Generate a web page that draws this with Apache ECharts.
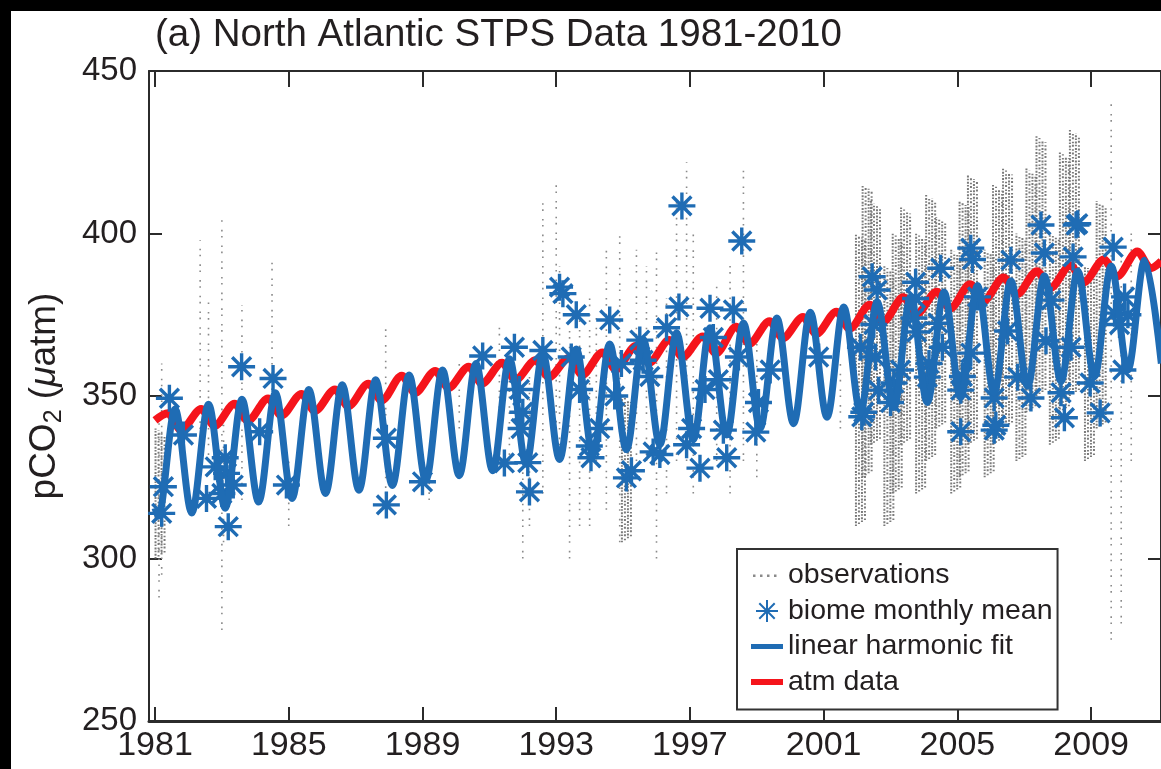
<!DOCTYPE html>
<html><head><meta charset="utf-8">
<script src="https://cdn.jsdelivr.net/npm/echarts@6/dist/echarts.min.js"></script>
<style>
html,body{margin:0;padding:0;background:#000;width:1161px;height:769px;overflow:hidden}
#paper{position:absolute;left:11px;top:11px;width:1150px;height:758px;background:#fff}
#chart{position:absolute;left:0;top:0;width:1161px;height:769px}
</style></head><body><div id="paper"></div><div id="chart"></div>
<script>
const titleText = '(a) North Atlantic STPS Data 1981-2010';
const xTickYears = [1981, 1985, 1989, 1993, 1997, 2001, 2005, 2009];
const yTicks = [250, 300, 350, 400, 450];
const legendNames = ['observations', 'biome monthly mean', 'linear harmonic fit', 'atm data'];

// observation strips: [year, low pCO2, high pCO2]
const obsSparse = [
  [1981.12, 288, 345], [1981.2, 295, 360], [1982.35, 335, 398], [1982.6, 330, 380],
  [1983.0, 278, 405], [1983.05, 305, 345], [1983.6, 318, 378], [1984.5, 350, 392],
  [1985.0, 310, 330], [1987.9, 315, 372], [1989.2, 318, 330], [1990.1, 340, 360],
  [1991.3, 330, 372], [1991.6, 330, 362], [1992.0, 300, 345], [1992.2, 310, 360],
  [1992.6, 320, 410], [1993.0, 340, 415], [1993.1, 330, 390], [1993.4, 300, 370],
  [1993.7, 310, 375], [1994.0, 310, 380], [1994.2, 330, 375], [1994.5, 315, 395],
  [1994.9, 305, 400], [1995.4, 330, 395], [1995.7, 330, 390], [1996.0, 300, 395],
  [1996.3, 320, 380], [1996.6, 330, 410], [1996.9, 330, 422], [1997.1, 320, 400],
  [1997.8, 330, 385], [1998.2, 320, 390], [1998.6, 330, 420], [1999.0, 325, 370],
  [2001.5, 340, 360], [2009.6, 275, 440], [2009.9, 280, 395], [2010.2, 330, 400]
];
const obsDense = [
  [1981.15, 300, 340], [1995.1, 305, 350],
  [2002.1, 310, 400], [2002.3, 325, 415], [2002.55, 335, 410],
  [2002.95, 310, 390], [2003.2, 320, 400], [2003.45, 335, 408],
  [2003.9, 320, 400], [2004.2, 330, 412], [2004.5, 340, 405],
  [2004.95, 320, 395], [2005.2, 325, 410], [2005.45, 335, 418],
  [2005.95, 325, 395], [2006.2, 335, 415], [2006.5, 340, 420],
  [2006.9, 330, 400], [2007.2, 345, 420], [2007.5, 350, 430],
  [2007.9, 335, 400], [2008.2, 345, 425], [2008.5, 350, 432],
  [2008.95, 330, 390], [2009.3, 340, 410]
];

// biome monthly mean: [year, pCO2]
const biomeMean = [
  [1981.2, 313.9], [1981.25, 322.1], [1981.43, 349.3], [1981.85, 338], [1982.54, 318.5],
  [1982.8, 328.2], [1983.0, 320], [1983.14, 326.2], [1983.19, 309.8], [1983.34, 322.6],
  [1983.1, 331], [1983.59, 359], [1984.13, 339], [1984.53, 355.4], [1984.93, 322.6],
  [1987.92, 337], [1987.92, 316.5], [1989.0, 323.6],
  [1990.8, 362.3], [1991.45, 329.4], [1991.75, 365], [1991.9, 352], [1991.95, 340],
  [1992.0, 345], [1992.15, 329.5], [1992.2, 320.5], [1992.6, 364],
  [1993.1, 383.5], [1993.2, 381.5], [1993.6, 375], [1993.45, 362], [1993.7, 352],
  [1993.99, 334.6], [1994.04, 331], [1994.3, 340], [1994.6, 373.4], [1994.75, 350],
  [1994.95, 360], [1995.1, 324.8], [1995.25, 327], [1995.5, 367.2], [1995.6, 361],
  [1995.8, 356], [1995.9, 332.8], [1996.1, 332], [1996.3, 371], [1996.67, 377.4],
  [1996.76, 408.5], [1996.9, 335], [1997.05, 340], [1997.3, 327.8], [1997.45, 352],
  [1997.6, 377], [1997.7, 368], [1997.85, 355], [1998.0, 339.5], [1998.1, 331],
  [1998.3, 376.5], [1998.45, 362], [1998.55, 397.7], [1998.97, 338.9], [1999.05, 348],
  [1999.4, 358], [2000.85, 362],
  [2002.1, 365], [2002.14, 343.6], [2002.2, 345], [2002.45, 386.7], [2002.6, 382.6],
  [2002.55, 362], [2002.64, 351.8], [2002.5, 372], [2003.1, 354], [2003.0, 348],
  [2003.3, 358], [2003.75, 385], [2003.75, 380], [2003.7, 374], [2003.78, 369.7],
  [2004.1, 355.8], [2004.15, 360], [2004.5, 389.3], [2004.42, 372.4], [2004.55, 365],
  [2005.1, 351.8], [2005.15, 356], [2005.1, 339], [2005.4, 395.5], [2005.45, 392],
  [2005.6, 380.5], [2005.4, 363.2], [2006.1, 349.4], [2006.1, 339.5], [2006.15, 341],
  [2006.6, 391.8], [2006.5, 370], [2006.8, 355.8], [2007.2, 349.4], [2007.5, 402.6],
  [2007.6, 394], [2007.8, 379.5], [2007.65, 367], [2008.1, 351], [2008.2, 343.3],
  [2008.55, 402.6], [2008.6, 403], [2008.46, 392.8], [2008.4, 365], [2008.97, 354],
  [2009.27, 344.8], [2009.66, 395.8], [2009.95, 358], [2009.7, 375.5], [2010.0, 380.5],
  [2009.85, 372], [2010.1, 375]
];

// linear harmonic fit: troughs and peaks [year, pCO2]
const harmonicFit = [
  [1981.0, 315.5], [1981.1, 313.0], [1981.6, 346.0],
  [1982.1, 314.0], [1982.6, 347.5], [1983.1, 315.5], [1983.6, 349.0],
  [1984.1, 317.4], [1984.6, 351.0], [1985.1, 318.5], [1985.6, 352.0],
  [1986.1, 320.0], [1986.6, 353.5], [1987.1, 321.0], [1987.6, 355.0],
  [1988.1, 322.5], [1988.6, 356.5], [1989.1, 324.0], [1989.6, 358.0],
  [1990.1, 325.5], [1990.6, 360.0], [1991.1, 327.0], [1991.6, 361.5],
  [1992.1, 329.0], [1992.6, 363.0], [1993.1, 330.5], [1993.6, 364.5],
  [1994.1, 332.0], [1994.6, 366.0], [1995.1, 333.5], [1995.6, 367.5],
  [1996.1, 335.0], [1996.6, 369.5], [1997.1, 336.5], [1997.6, 371.0],
  [1998.1, 338.0], [1998.6, 372.5], [1999.1, 340.0], [1999.6, 374.0],
  [2000.1, 341.5], [2000.6, 375.8], [2001.1, 343.5], [2001.6, 377.4],
  [2002.1, 345.0], [2002.6, 379.0], [2003.1, 346.5], [2003.6, 380.5],
  [2004.1, 348.0], [2004.6, 382.0], [2005.1, 349.5], [2005.6, 384.0],
  [2006.1, 351.0], [2006.6, 385.5], [2007.1, 353.0], [2007.6, 387.0],
  [2008.1, 354.5], [2008.6, 388.5], [2009.1, 356.0], [2009.6, 390.0],
  [2010.1, 358.0], [2010.6, 391.8], [2011.1, 360.0]
];

// atmospheric pCO2: seasonal highs and lows [year, pCO2]
const atmData = [
  [1981.0, 342.5],
  [1981.38, 344.7], [1981.78, 339.5], [1982.38, 346.0], [1982.78, 340.8],
  [1983.38, 347.6], [1983.78, 342.4], [1984.38, 349.2], [1984.78, 344.0],
  [1985.38, 350.6], [1985.78, 345.4], [1986.38, 352.0], [1986.78, 346.8],
  [1987.38, 353.8], [1987.78, 348.6], [1988.38, 356.2], [1988.78, 351.0],
  [1989.38, 357.7], [1989.78, 352.5], [1990.38, 359.0], [1990.78, 353.8],
  [1991.38, 360.2], [1991.78, 355.0], [1992.38, 361.0], [1992.78, 355.8],
  [1993.38, 361.7], [1993.78, 356.5], [1994.38, 363.4], [1994.78, 358.2],
  [1995.38, 365.4], [1995.78, 360.2], [1996.38, 367.2], [1996.78, 362.0],
  [1997.38, 368.3], [1997.78, 363.1], [1998.38, 371.3], [1998.78, 366.1],
  [1999.38, 373.0], [1999.78, 367.8], [2000.38, 374.3], [2000.78, 369.1],
  [2001.38, 375.9], [2001.78, 370.7], [2002.38, 378.1], [2002.78, 372.9],
  [2003.38, 380.4], [2003.78, 375.2], [2004.38, 382.1], [2004.78, 376.9],
  [2005.38, 384.4], [2005.78, 379.2], [2006.38, 386.5], [2006.78, 381.3],
  [2007.38, 388.4], [2007.78, 383.2], [2008.38, 390.2], [2008.78, 385.0],
  [2009.38, 392.0], [2009.78, 386.8], [2010.38, 394.5], [2010.78, 389.3],
  [2011.1, 391.5]
];

const FONT = 'Liberation Sans';
const BLUE = '#1f6cb4';
const RED = '#f5141b';
const GRAY = '#8a8a8a';
const AXIS = '#2b2b2b';
const TXT = '#231f20';
const STAR = 'path://M10,0L10,20M0,10L20,10M3,3L17,17M3,17L17,3';
const ICON_DOTS = 'path://M0,0L0.01,0M2,10h2.5v2.5h-2.5zM9,10h2.5v2.5h-2.5zM16,10h2.5v2.5h-2.5zM23,10h2.5v2.5h-2.5zM32,22L32.01,22';
const ICON_LINE_BLUE = 'path://M0,0L0.01,0M0,8.5h32v5h-32zM32,22L32.01,22';
const ICON_LINE_RED = 'path://M0,0L0.01,0M0,8h32v6h-32zM32,22L32.01,22';

function obsRender(dense) {
  return function (params, api) {
    const x = api.value(0);
    const p1 = api.coord([x, api.value(1)]);
    const p2 = api.coord([x, api.value(2)]);
    if (!dense) {
      return { type: 'line', shape: { x1: p1[0], y1: p1[1], x2: p2[0], y2: p2[1] },
        style: { stroke: GRAY, lineWidth: 1.6, lineDash: [1.6, 4.5, 1.6, 8] } };
    }
    const kids = [];
    [-4.5, -1.5, 1.5, 4.5].forEach(function (o, k) {
      kids.push({ type: 'line', shape: { x1: p1[0] + o, y1: p1[1] - k * 2, x2: p2[0] + o, y2: p2[1] + k * 2 },
        style: { stroke: '#7a7a7a', lineWidth: 2, lineDash: [1.5, 1.2 + (k % 2) * 1.3, 2, 1.6] } });
    });
    return { type: 'group', children: kids };
  };
}

const chart = echarts.init(document.getElementById('chart'), null, { renderer: 'canvas', devicePixelRatio: 1 });
const xMin = 1980.82, xMax = 2011.09;
chart.setOption({
  animation: false,
  backgroundColor: 'transparent',
  textStyle: { fontFamily: FONT },
  title: { text: titleText, left: 150, top: 11, textStyle: { fontSize: 38.5, fontWeight: 'normal', color: TXT, fontFamily: FONT } },
  grid: { left: 149, top: 71, width: 1014, height: 650, containLabel: false },
  legend: {
    orient: 'vertical', left: 737, top: 549, padding: [12, 5, 13, 14], itemGap: 6.5,
    itemWidth: 32, itemHeight: 22, borderColor: '#333', borderWidth: 2, backgroundColor: '#fff',
    textStyle: { fontSize: 28.5, color: TXT, fontFamily: FONT },
    selectedMode: false,
    data: [
      { name: legendNames[0], icon: ICON_DOTS, itemStyle: { color: GRAY, borderWidth: 0 } },
      { name: legendNames[1] },
      { name: legendNames[2], icon: ICON_LINE_BLUE, itemStyle: { color: BLUE, borderWidth: 0 } },
      { name: legendNames[3], icon: ICON_LINE_RED, itemStyle: { color: RED, borderWidth: 0 } }
    ]
  },
  xAxis: [{
    type: 'value', min: xMin, max: xMax, position: 'bottom',
    axisLine: { lineStyle: { color: AXIS, width: 3 } },
    axisTick: { inside: true, length: 14, customValues: xTickYears, lineStyle: { color: AXIS, width: 2 } },
    axisLabel: { customValues: xTickYears, fontSize: 34, margin: 8, color: TXT, formatter: function (v) { return String(Math.round(v)); } },
    splitLine: { show: false }
  }, {
    type: 'value', min: xMin, max: xMax, position: 'top',
    axisLine: { onZero: false, lineStyle: { color: AXIS, width: 2 } },
    axisTick: { inside: true, length: 16, customValues: xTickYears, lineStyle: { color: AXIS, width: 2 } },
    axisLabel: { show: false }, splitLine: { show: false }
  }],
  yAxis: [{
    type: 'value', min: yTicks[0], max: yTicks[yTicks.length - 1], interval: 50, position: 'left',
    axisLine: { show: true, onZero: false, lineStyle: { color: AXIS, width: 2 } },
    axisTick: { show: true, inside: true, length: 13, lineStyle: { color: AXIS, width: 2 } },
    axisLabel: { fontSize: 33, margin: 12, color: TXT },
    splitLine: { show: false },
    name: '{n|pCO}{s|2}{n| (}{i|μ}{n|atm)}', nameLocation: 'middle', nameRotate: 90, nameGap: 82,
    nameTextStyle: { fontSize: 37, color: TXT,
      rich: { n: { fontSize: 37, lineHeight: 44, fontFamily: FONT, color: TXT },
              s: { fontSize: 25, lineHeight: 16, verticalAlign: 'bottom', fontFamily: FONT, color: TXT },
              i: { fontSize: 37, lineHeight: 44, fontStyle: 'italic', fontFamily: FONT, color: TXT } } }
  }, {
    type: 'value', min: yTicks[0], max: yTicks[yTicks.length - 1], interval: 50, position: 'right',
    axisLine: { show: true, onZero: false, lineStyle: { color: AXIS, width: 2 } },
    axisTick: { show: true, inside: true, length: 13, lineStyle: { color: AXIS, width: 2 } },
    axisLabel: { show: false }, splitLine: { show: false }
  }],
  series: [
    { name: 'observations', type: 'custom', renderItem: obsRender(false), data: obsSparse, z: 1,
      itemStyle: { color: GRAY, borderWidth: 0 }, silent: true },
    { name: 'observations', type: 'custom', renderItem: obsRender(true), data: obsDense, z: 1, silent: true,
      itemStyle: { color: GRAY, borderWidth: 0 } },
    { name: 'atm data', type: 'line', data: atmData, z: 2, smooth: 0.3, smoothMonotone: 'x',
      showSymbol: false, symbol: 'none', lineStyle: { color: RED, width: 8 }, itemStyle: { color: RED }, silent: true },
    { name: 'biome monthly mean', type: 'scatter', data: biomeMean, z: 3, symbol: STAR, symbolSize: 27,
      itemStyle: { color: 'rgba(0,0,0,0)', borderColor: BLUE, borderWidth: 3.4, opacity: 1 }, silent: true },
    { name: 'linear harmonic fit', type: 'line', data: harmonicFit, z: 4, smooth: 0.33, smoothMonotone: 'x',
      showSymbol: false, symbol: 'none', lineStyle: { color: BLUE, width: 7 }, itemStyle: { color: BLUE }, silent: true }
  ]
});
</script></body></html>
